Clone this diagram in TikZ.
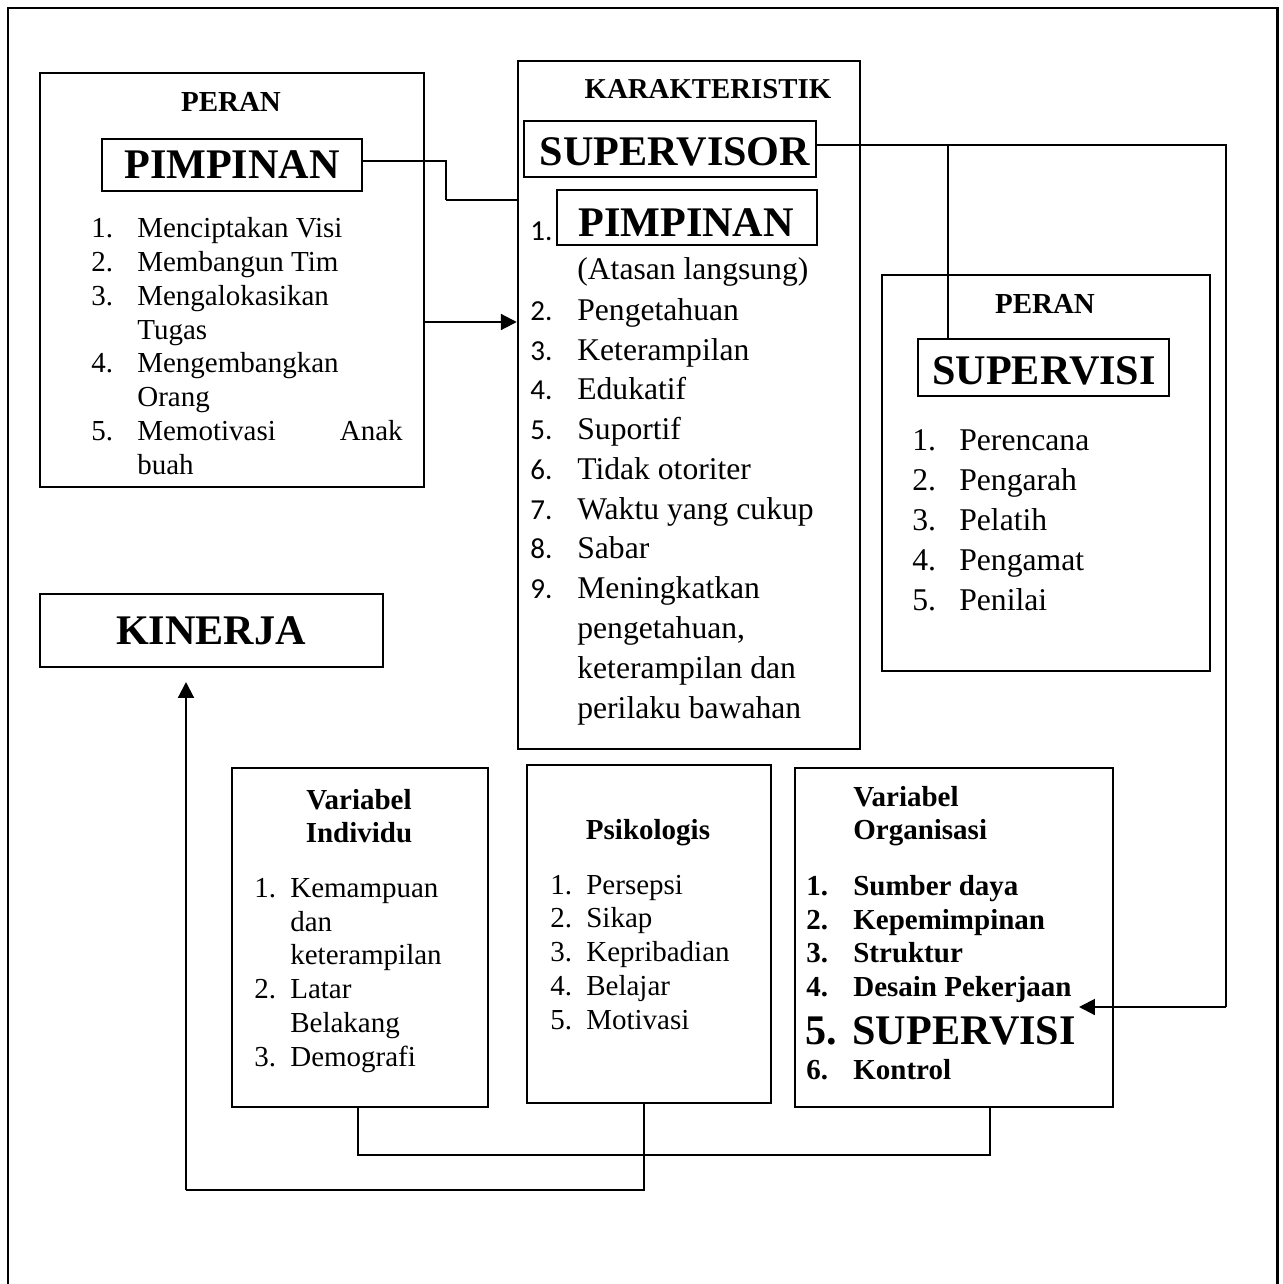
\documentclass[tikz,border=0pt]{standalone}
\usepackage{fontspec}
\setmainfont{Liberation Serif}
\newfontfamily\calib{Carlito}
\usetikzlibrary{arrows.meta,fit}
\newcommand\fsA{\fontsize{16.5}{19}\selectfont}
\newcommand\fsB{\fontsize{18}{21}\selectfont}
\newcommand\fsK{\fontsize{16.4}{19}\selectfont}
\newcommand\fsC{\fontsize{24}{28}\selectfont}
\tikzset{
  box/.style={draw, line width=1.4pt, inner sep=0pt},
  tA/.style={inner sep=0pt, anchor=base west, font=\fsA},
  tAc/.style={inner sep=0pt, anchor=base, font=\fsA\bfseries},
  tB/.style={inner sep=0pt, anchor=base west, font=\fsB},
  tN/.style={inner sep=0pt, anchor=base west, font=\calib\fsA},
  tBig/.style={inner sep=0pt, anchor=base, font=\fsC\bfseries},
  thinline/.style={line width=0.6pt},
  thickline/.style={line width=1.2pt},
  arr/.style={line width=1.2pt, -{Triangle[length=9pt,width=9pt]}},
}
\begin{document}
\begin{tikzpicture}[x=0.02cm,y=-0.02cm]
\useasboundingbox (0,0) rectangle (1283,1284);
% outer frame
\draw[line width=1.7pt] (8,1290) -- (8,8) -- (1277,8) -- (1277,1290);

% ---------- left box: PERAN PIMPINAN ----------
\node[box, fit={(40,73)(424,487)}] (lb) {};
\node[tAc] (lbT) at (231,112) {PERAN};
\node[box, fit={(102,139)(362,191)}] (pimpL) {};
\node[tBig] (pimpLT) at (232,179) {PIMPINAN};
\node[tA] (l1n) at (91,237) {1.};  \node[tA] (l1t) at (137,237) {Menciptakan Visi};
\node[tA] (l2n) at (91,271) {2.};  \node[tA] (l2t) at (137,271) {Membangun Tim};
\node[tA] (l3n) at (91,305) {3.};  \node[tA] (l3t) at (137,305) {Mengalokasikan};
\node[tA] (l3u) at (137,339) {Tugas};
\node[tA] (l4n) at (91,372) {4.};  \node[tA] (l4t) at (137,372) {Mengembangkan};
\node[tA] (l4u) at (137,406) {Orang};
\node[tA] (l5n) at (91,440) {5.};  \node[tA] (l5t) at (137,440) {Memotivasi};
\node[inner sep=0pt, anchor=base east, font=\fsA] (l5a) at (403,440) {Anak};
\node[tA] (l5u) at (137,474) {buah};

% ---------- middle box: KARAKTERISTIK SUPERVISOR ----------
\node[box, fit={(518,61)(860,749)}] (mid) {};
\node[inner sep=0pt, anchor=base, font=\fsK\bfseries] (midT) at (708,99) {KARAKTERISTIK};
\node[box, fit={(524,121)(816,177)}] (sup) {};
\node[tBig] (supT) at (675,166) {SUPERVISOR};
\node[tN] (m1n) at (530,240) {1.};
\node[box, fit={(557,190)(817,245)}] (pimpM) {};
\node[tBig] (pimpMT) at (686,236) {PIMPINAN};
\node[tB] (m1u) at (577,279) {(Atasan langsung)};
\node[tN] (m2n) at (530,320) {2.}; \node[tB] (m2t) at (577,320) {Pengetahuan};
\node[tN] (m3n) at (530,360) {3.}; \node[tB] (m3t) at (577,360) {Keterampilan};
\node[tN] (m4n) at (530,399) {4.}; \node[tB] (m4t) at (577,399) {Edukatif};
\node[tN] (m5n) at (530,439) {5.}; \node[tB] (m5t) at (577,439) {Suportif};
\node[tN] (m6n) at (530,479) {6.}; \node[tB] (m6t) at (577,479) {Tidak otoriter};
\node[tN] (m7n) at (530,519) {7.}; \node[tB] (m7t) at (577,519) {Waktu yang cukup};
\node[tN] (m8n) at (530,558) {8.}; \node[tB] (m8t) at (577,558) {Sabar};
\node[tN] (m9n) at (530,598) {9.}; \node[tB] (m9t) at (577,598) {Meningkatkan};
\node[tB] (m9u) at (577,638) {pengetahuan,};
\node[tB] (m9v) at (577,678) {keterampilan dan};
\node[tB] (m9w) at (577,718) {perilaku bawahan};

% ---------- right box: PERAN SUPERVISI ----------
\node[box, fit={(882,275)(1210,671)}] (rb) {};
\node[tAc] (rbT) at (1045,313) {PERAN};
\node[box, fit={(918,339)(1169,396)}] (supv) {};
\node[tBig] (supvT) at (1044,384) {SUPERVISI};
\node[tB] (r1n) at (912,450) {1.}; \node[tB] (r1t) at (959,450) {Perencana};
\node[tB] (r2n) at (912,490) {2.}; \node[tB] (r2t) at (959,490) {Pengarah};
\node[tB] (r3n) at (912,530) {3.}; \node[tB] (r3t) at (959,530) {Pelatih};
\node[tB] (r4n) at (912,570) {4.}; \node[tB] (r4t) at (959,570) {Pengamat};
\node[tB] (r5n) at (912,610) {5.}; \node[tB] (r5t) at (959,610) {Penilai};

% ---------- KINERJA ----------
\node[box, fit={(40,594)(383,667)}] (kin) {};
\node[tBig] (kinT) at (211,644) {KINERJA};

% ---------- Variabel Individu ----------
\node[box, fit={(232,768)(488,1107)}] (ind) {};
\node[tAc] (indT1) at (359,809) {Variabel};
\node[tAc] (indT2) at (359,842) {Individu};
\node[tA] (i1n) at (254,897) {1.}; \node[tA] (i1t) at (290,897) {Kemampuan};
\node[tA] (i1u) at (290,931) {dan};
\node[tA] (i1v) at (290,964) {keterampilan};
\node[tA] (i2n) at (254,998) {2.}; \node[tA] (i2t) at (290,998) {Latar};
\node[tA] (i2u) at (290,1032) {Belakang};
\node[tA] (i3n) at (254,1066) {3.}; \node[tA] (i3t) at (290,1066) {Demografi};

% ---------- Psikologis ----------
\node[box, fit={(527,765)(771,1103)}] (psi) {};
\node[tAc] (psiT) at (648,839) {Psikologis};
\node[tA] (p1n) at (550,894) {1.}; \node[tA] (p1t) at (586,894) {Persepsi};
\node[tA] (p2n) at (550,927) {2.}; \node[tA] (p2t) at (586,927) {Sikap};
\node[tA] (p3n) at (550,961) {3.}; \node[tA] (p3t) at (586,961) {Kepribadian};
\node[tA] (p4n) at (550,995) {4.}; \node[tA] (p4t) at (586,995) {Belajar};
\node[tA] (p5n) at (550,1029) {5.}; \node[tA] (p5t) at (586,1029) {Motivasi};

% ---------- Variabel Organisasi ----------
\node[box, fit={(795,768)(1113,1107)}] (org) {};
\node[tA, font=\fsA\bfseries] (orgT1) at (853,806) {Variabel};
\node[tA, font=\fsA\bfseries] (orgT2) at (853,839) {Organisasi};
\node[tA, font=\fsA\bfseries] (o1n) at (806,895) {1.}; \node[tA, font=\fsA\bfseries] (o1t) at (853,895) {Sumber daya};
\node[tA, font=\fsA\bfseries] (o2n) at (806,929) {2.}; \node[tA, font=\fsA\bfseries] (o2t) at (853,929) {Kepemimpinan};
\node[tA, font=\fsA\bfseries] (o3n) at (806,962) {3.}; \node[tA, font=\fsA\bfseries] (o3t) at (853,962) {Struktur};
\node[tA, font=\fsA\bfseries] (o4n) at (806,996) {4.}; \node[tA, font=\fsA\bfseries] (o4t) at (853,996) {Desain Pekerjaan};
\node[tA, font=\fsC\bfseries] (o5n) at (805,1044) {5.}; \node[tA, font=\fsC\bfseries] (o5t) at (852,1044) {SUPERVISI};
\node[tA, font=\fsA\bfseries] (o6n) at (806,1079) {6.}; \node[tA, font=\fsA\bfseries] (o6t) at (853,1079) {Kontrol};

% ---------- connectors ----------
\draw[thinline] (pimpL.east |- 0,161) -- (446,161) -- (446,200);
\draw[thickline] (446,200) -- (mid.west |- 0,200);
\draw[arr] (lb.east |- 0,322) -- (mid.west |- 0,322);
\draw[thinline] (sup.east |- 0,145) -- (1226,145) -- (1226,1007);
\coordinate (orgTip) at (1079,1007);
\draw[arr] (1226,1007) -- (orgTip);
\draw[thinline] (948,145) -- (supv.north -| 948,0);
\draw[thinline] (ind.south -| 358,0) -- (358,1155) -- (990,1155) -- (org.south -| 990,0);
\draw[thinline] (psi.south -| 644,0) -- (644,1190) -- (186,1190);
\coordinate (kinTip) at (186,682);
\draw[arr] (186,1190) -- (kinTip);
\end{tikzpicture}
\end{document}
